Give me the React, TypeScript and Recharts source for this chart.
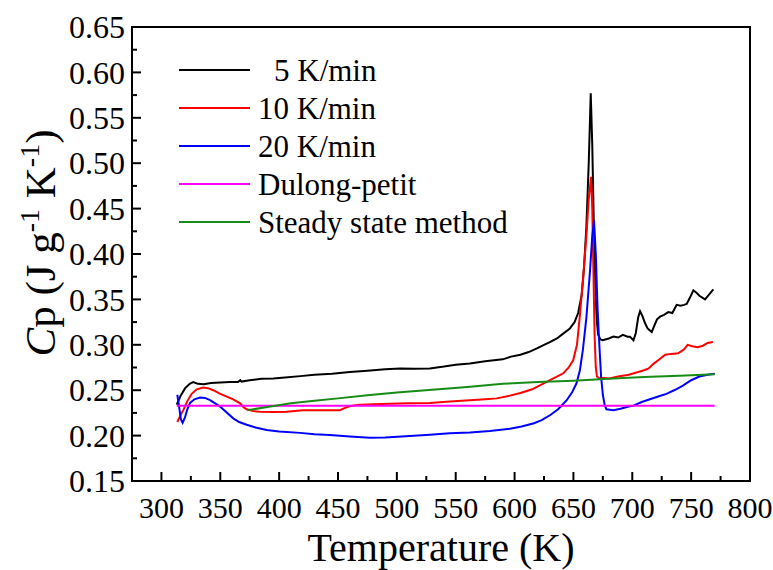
import { LineChart, Line, XAxis, YAxis, ReferenceArea } from 'recharts';

const FONT = "'Liberation Serif', 'Times New Roman', serif";

// 5 K/min
const t5 = [313, 316, 320, 324, 327, 331, 336, 342, 350, 358, 365, 367, 368, 375, 385, 395, 405, 418, 430, 445, 460, 475, 490, 503, 515, 528, 540, 550, 562, 575, 590, 597, 605, 612, 619, 625, 630, 636, 641, 647, 651, 654, 657, 659, 661, 663, 664.7, 666, 667.5, 669, 670, 671, 673, 675, 680, 684, 688, 692, 696, 698, 701, 703, 705, 706.6, 708.5, 710.8, 713, 716.5, 719, 721, 723.6, 727, 730.6, 734, 737.7, 741, 744, 746.2, 749, 751.9, 754, 757, 761.8, 765, 768.9];
const cp5 = [0.234, 0.243, 0.252, 0.257, 0.259, 0.257, 0.2565, 0.258, 0.2585, 0.259, 0.259, 0.261, 0.2595, 0.261, 0.2625, 0.263, 0.264, 0.2655, 0.267, 0.268, 0.27, 0.2715, 0.273, 0.274, 0.2735, 0.274, 0.276, 0.278, 0.2795, 0.282, 0.284, 0.287, 0.289, 0.292, 0.296, 0.3, 0.303, 0.307, 0.312, 0.318, 0.325, 0.335, 0.355, 0.385, 0.43, 0.5, 0.577, 0.52, 0.42, 0.35, 0.325, 0.311, 0.306, 0.305, 0.307, 0.309, 0.308, 0.311, 0.309, 0.309, 0.305, 0.313, 0.33, 0.337, 0.332, 0.324, 0.318, 0.314, 0.322, 0.328, 0.331, 0.333, 0.336, 0.335, 0.344, 0.343, 0.344, 0.345, 0.352, 0.36, 0.358, 0.354, 0.35, 0.355, 0.361];

// 10 K/min
const t10 = [313.5, 316, 318.6, 322, 325.7, 330, 335.6, 340, 344, 350, 355.5, 361, 366.8, 370, 372.4, 378, 383.7, 395, 406.4, 420, 435, 451.7, 456, 462, 468.7, 480, 494, 510, 528, 545, 562, 575, 584.8, 596, 605, 615, 624.8, 633, 641.4, 646, 649.8, 653, 655.4, 658, 661, 663, 665, 666, 667, 668, 669, 670, 672, 676, 680.6, 688, 697, 705, 710, 713.9, 718, 722, 728, 733, 739, 744, 747, 751, 755.6, 760, 764, 768.5];
const cp10 = [0.215, 0.222, 0.228, 0.238, 0.246, 0.251, 0.253, 0.252, 0.25, 0.246, 0.243, 0.24, 0.2356, 0.231, 0.229, 0.227, 0.2264, 0.226, 0.2264, 0.228, 0.228, 0.228, 0.2305, 0.233, 0.234, 0.2345, 0.235, 0.2355, 0.236, 0.2375, 0.239, 0.24, 0.241, 0.244, 0.247, 0.251, 0.2576, 0.263, 0.2686, 0.275, 0.283, 0.3, 0.331, 0.37, 0.42, 0.46, 0.485, 0.45, 0.38, 0.31, 0.275, 0.265, 0.263, 0.2635, 0.263, 0.265, 0.267, 0.27, 0.272, 0.274, 0.279, 0.283, 0.289, 0.29, 0.2906, 0.295, 0.3, 0.2985, 0.2973, 0.299, 0.302, 0.303];

// 20 K/min
const t20 = [313.5, 315, 316.5, 318, 320, 322, 324.3, 328, 332.8, 337, 341.3, 345, 349.8, 355, 361, 366, 372.4, 380, 389.4, 400, 417.7, 430, 443, 460, 477, 490, 511, 528, 545, 562, 579, 596, 606, 616.5, 623, 630.4, 637, 644.3, 649, 652.6, 655.5, 658, 661, 664, 666, 667.5, 669, 670.5, 672, 673.5, 675, 676.5, 678, 683.9, 690, 697, 701, 708, 715, 722, 729, 736, 743, 750, 757, 764, 770];
const cp20 = [0.245, 0.232, 0.218, 0.214, 0.22, 0.229, 0.236, 0.24, 0.242, 0.2415, 0.239, 0.236, 0.232, 0.226, 0.219, 0.215, 0.212, 0.209, 0.2062, 0.2045, 0.203, 0.2015, 0.2007, 0.199, 0.1977, 0.198, 0.1996, 0.201, 0.2025, 0.2035, 0.205, 0.2075, 0.21, 0.2136, 0.217, 0.2227, 0.229, 0.239, 0.248, 0.2576, 0.272, 0.294, 0.33, 0.38, 0.42, 0.437, 0.4, 0.34, 0.3, 0.265, 0.245, 0.234, 0.229, 0.228, 0.2295, 0.232, 0.233, 0.237, 0.24, 0.243, 0.246, 0.2502, 0.255, 0.261, 0.265, 0.267, 0.268];

// Dulong-petit
const tDP = [313, 770];
const cpDP = [0.233, 0.233];

// Steady state method
const tSS = [373, 390, 410, 430, 450, 475, 500, 530, 560, 590, 620, 650, 680, 710, 740, 770];
const cpSS = [0.228, 0.2315, 0.2355, 0.2385, 0.241, 0.2445, 0.2475, 0.2505, 0.2535, 0.257, 0.259, 0.2605, 0.2625, 0.2645, 0.266, 0.2675];

const xTicks = [300, 325, 350, 375, 400, 425, 450, 475, 500, 525, 550, 575, 600, 625, 650, 675, 700, 725, 750, 775, 800];
const yTicks = [0.15, 0.175, 0.2, 0.225, 0.25, 0.275, 0.3, 0.325, 0.35, 0.375, 0.4, 0.425, 0.45, 0.475, 0.5, 0.525, 0.55, 0.575, 0.6, 0.625, 0.65];

const zip = (ts: number[], vs: number[]) => ts.map((t, i) => ({ t, v: vs[i] }));

const series = [
  { name: '5 K/min', color: '#000000', data: zip(t5, cp5) },
  { name: '10 K/min', color: '#ff0000', data: zip(t10, cp10) },
  { name: '20 K/min', color: '#0000ff', data: zip(t20, cp20) },
  { name: 'Dulong-petit', color: '#ff00ff', data: zip(tDP, cpDP) },
  { name: 'Steady state method', color: '#168c16', data: zip(tSS, cpSS) },
];

const isMajorY = (v: number) => Math.abs(Math.round(v * 20) - v * 20) < 1e-6;

const XTick = ({ x, y, payload }: any) => {
  const major = payload.value % 50 === 0;
  return (
    <g>
      <line x1={x} y1={y} x2={x} y2={y - (major ? 9 : 5)} stroke="#000" strokeWidth={2} />
      {major && (
        <text x={x} y={y + 37} textAnchor="middle" fontSize={30} fontFamily={FONT} fill="#000">
          {payload.value}
        </text>
      )}
    </g>
  );
};

const YTickLeft = ({ x, y, payload }: any) => {
  const major = isMajorY(payload.value);
  return (
    <g>
      <line x1={x} y1={y} x2={x + (major ? 9 : 5)} y2={y} stroke="#000" strokeWidth={2} />
      {major && (
        <text x={x - 7} y={y} dy="0.35em" textAnchor="end" fontSize={32} fontFamily={FONT} fill="#000">
          {payload.value.toFixed(2)}
        </text>
      )}
    </g>
  );
};

const YTickRight = ({ x, y, payload }: any) => {
  const major = isMajorY(payload.value);
  return <line x1={x} y1={y} x2={x - (major ? 9 : 5)} y2={y} stroke="#000" strokeWidth={2} />;
};

const XTitle = ({ viewBox }: any) => (
  <text x={viewBox.x + viewBox.width / 2} y={viewBox.y + 80} textAnchor="middle" fontSize={40} fontFamily={FONT} fill="#000">
    Temperature (K)
  </text>
);

const YTitle = () => (
  <text x={40} y={243} transform="rotate(-90, 40, 243)" textAnchor="middle" dy="0.35em" fontSize={43} fontFamily={FONT} fill="#000">
    <tspan fontStyle="italic">C</tspan>
    <tspan>p (J g</tspan>
    <tspan fontSize={28} dy={-16}>-1</tspan>
    <tspan dy={16}> K</tspan>
    <tspan fontSize={28} dy={-16}>-1</tspan>
    <tspan dy={16}>)</tspan>
  </text>
);

const LegendBox = () => (
  <svg width={380} height={200} style={{ position: 'absolute', left: 170, top: 45 }}>
    {series.map((s, i) => {
      const cy = 25 + i * 38;
      return (
        <g key={s.name}>
          <line x1={9} x2={80} y1={cy} y2={cy} stroke={s.color} strokeWidth={2} />
          <text x={i === 0 ? 104 : 88} y={cy} dy="0.35em" fontSize={31} fontFamily={FONT} fill="#000">
            {s.name}
          </text>
        </g>
      );
    })}
  </svg>
);

const App = () => {
  return (
    <div style={{ position: 'absolute', left: 0, top: 0, width: 773, height: 570, background: '#fff' }}>
      <LineChart width={773} height={570} margin={{ top: 27, right: 23, bottom: 0, left: 0 }}>
        <XAxis
          type="number"
          dataKey="t"
          domain={[275, 800]}
          ticks={xTicks}
          interval={0}
          tickSize={0}
          tickMargin={0}
          tickLine={false}
          axisLine={false}
          tick={<XTick />}
          height={89}
          allowDataOverflow
          label={<XTitle />}
        />
        <YAxis
          yAxisId="left"
          type="number"
          domain={[0.15, 0.65]}
          ticks={yTicks}
          interval={0}
          tickSize={0}
          tickMargin={0}
          tickLine={false}
          axisLine={false}
          tick={<YTickLeft />}
          width={132}
          allowDataOverflow
          label={<YTitle />}
        />
        <YAxis
          yAxisId="right"
          orientation="right"
          type="number"
          domain={[0.15, 0.65]}
          ticks={yTicks}
          interval={0}
          tickSize={0}
          tickMargin={0}
          tickLine={false}
          axisLine={false}
          tick={<YTickRight />}
          width={0}
          allowDataOverflow
        />
        <ReferenceArea
          yAxisId="left"
          x1={275}
          x2={800}
          y1={0.15}
          y2={0.65}
          fill="none"
          stroke="#000"
          strokeWidth={2}
          ifOverflow="visible"
        />
        {series.map((s) => (
          <Line
            key={s.name}
            yAxisId="left"
            data={s.data}
            dataKey="v"
            name={s.name}
            type="linear"
            stroke={s.color}
            strokeWidth={2}
            dot={false}
            activeDot={false}
            isAnimationActive={false}
          />
        ))}
      </LineChart>
      <LegendBox />
    </div>
  );
};

export default App;
